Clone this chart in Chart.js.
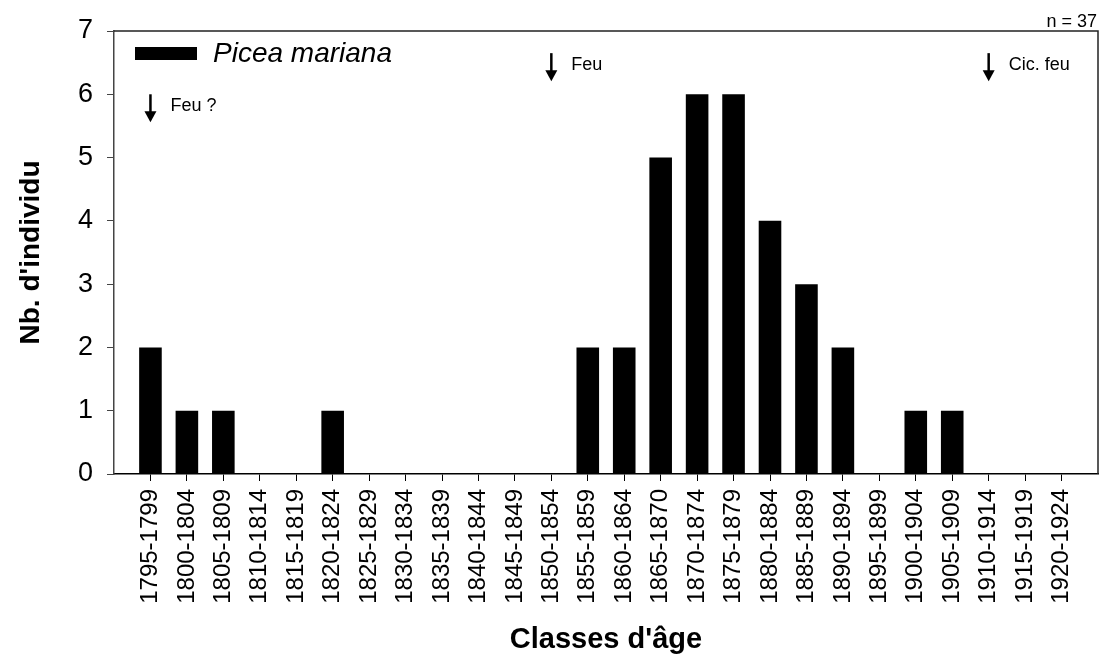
<!DOCTYPE html>
<html>
<head>
<meta charset="utf-8">
<script src="https://cdn.jsdelivr.net/npm/chart.js@4.4.1/dist/chart.umd.min.js"></script>
<style>
  html, body { margin: 0; padding: 0; background: #fff; }
  #wrap { width: 1099px; height: 657px; }
</style>
</head>
<body>
<div id="wrap"><canvas id="chart"></canvas></div>
<script>
// age classes and counts (Picea mariana, n = 37)
var categories = ['1795-1799', '1800-1804', '1805-1809', '1810-1814', '1815-1819', '1820-1824',
    '1825-1829', '1830-1834', '1835-1839', '1840-1844', '1845-1849', '1850-1854',
    '1855-1859', '1860-1864', '1865-1870', '1870-1874', '1875-1879', '1880-1884',
    '1885-1889', '1890-1894', '1895-1899', '1900-1904', '1905-1909', '1910-1914',
    '1915-1919', '1920-1924'];
var counts = [2, 1, 1, 0, 0, 1, 0, 0, 0, 0, 0, 0, 2, 2, 5, 6, 6, 4, 3, 2, 0, 1, 1, 0, 0, 0];
var yTicks = [0, 1, 2, 3, 4, 5, 6, 7];

// fire markers: text, age class, level on the y scale
var fireLabels = ['Feu ?', 'Feu', 'Cic. feu'];
var fireClasses = ['1795-1799', '1850-1854', '1910-1914'];
var fireLevels = [6.0, 6.65, 6.65];

var FONT = '"Liberation Sans", Arial, sans-serif';

/********************************** Frame, legend, notes *****************************************/
var extras = {
    id: 'extras',
    afterDraw: function (chart) {
        var ctx = chart.ctx, a = chart.chartArea;
        var xs = chart.scales.x, ys = chart.scales.y;
        ctx.save();

        // top and right border of the plot
        ctx.strokeStyle = '#222';
        ctx.lineWidth = 1.5;
        ctx.beginPath();
        ctx.moveTo(a.left, a.top);
        ctx.lineTo(a.right, a.top);
        ctx.lineTo(a.right, a.bottom);
        ctx.stroke();

        // legend
        var ds = chart.data.datasets[0];
        ctx.fillStyle = ds.backgroundColor;
        ctx.fillRect(a.left + 21, a.top + 16, 62, 13);
        ctx.font = 'italic 28px ' + FONT;
        ctx.textBaseline = 'middle';
        ctx.textAlign = 'left';
        ctx.fillStyle = '#000';
        ctx.fillText(ds.label, a.left + 99, a.top + 23);

        // fire arrows
        for (var i = 0; i < fireLabels.length; i++) {
            var x = xs.getPixelForValue(categories.indexOf(fireClasses[i]));
            var y = ys.getPixelForValue(fireLevels[i]);
            ctx.strokeStyle = '#000';
            ctx.lineWidth = 2.5;
            ctx.beginPath();
            ctx.moveTo(x, y);
            ctx.lineTo(x, y + 19);
            ctx.stroke();
            ctx.beginPath();
            ctx.moveTo(x - 6, y + 17);
            ctx.lineTo(x + 6, y + 17);
            ctx.lineTo(x, y + 28);
            ctx.closePath();
            ctx.fill();
            ctx.font = '18px ' + FONT;
            ctx.fillText(fireLabels[i], x + 20, y + 12);
        }

        // sample size
        ctx.font = '18px ' + FONT;
        ctx.textAlign = 'right';
        ctx.textBaseline = 'alphabetic';
        ctx.fillText('n = 37', 1097, 27);
        ctx.restore();
    }
};

new Chart(document.getElementById('chart'), {
    type: 'bar',
    data: {
        datasets: [{
            label: 'Picea mariana',
            data: counts.map(function (v, i) { return { x: i, y: v }; }),
            backgroundColor: '#000',
            borderWidth: 0,
            barPercentage: 0.62,
            categoryPercentage: 1
        }]
    },
    options: {
        responsive: true,
        maintainAspectRatio: false,
        animation: false,
        layout: { padding: { top: 31, right: 1, bottom: 0, left: 0 } },
        plugins: {
            legend: { display: false },
            tooltip: { enabled: false }
        },
        scales: {
            x: {
                type: 'linear',
                offset: false,
                min: -1,
                max: categories.length,
                afterBuildTicks: function (scale) {
                    scale.ticks = categories.map(function (c, i) { return { value: i }; });
                },
                afterFit: function (scale) { scale.height = 183; },
                grid: { offset: false, drawOnChartArea: false, drawTicks: true, tickLength: 7, color: '#000' },
                border: { display: true, color: '#000', width: 1.5 },
                ticks: {
                    autoSkip: false,
                    maxRotation: 90,
                    minRotation: 90,
                    padding: 8,
                    color: '#000',
                    font: { family: FONT, size: 24 },
                    callback: function (v) { return categories[v]; }
                },
                title: {
                    display: true,
                    text: "Classes d'âge",
                    color: '#000',
                    font: { family: FONT, size: 29, weight: 'bold' },
                    padding: { top: 0, bottom: 0 }
                }
            },
            y: {
                min: yTicks[0],
                max: yTicks[yTicks.length - 1],
                afterBuildTicks: function (scale) {
                    scale.ticks = yTicks.map(function (v) { return { value: v }; });
                },
                afterFit: function (scale) { scale.width = 114; },
                grid: { drawOnChartArea: false, drawTicks: true, tickLength: 7, color: '#444' },
                border: { display: true, color: '#444', width: 1.5 },
                ticks: {
                    padding: 14,
                    color: '#000',
                    font: { family: FONT, size: 27 }
                },
                title: {
                    display: true,
                    text: "Nb. d'individu",
                    color: '#000',
                    font: { family: FONT, size: 28, weight: 'bold' },
                    padding: { top: 14, bottom: 0 }
                }
            }
        }
    },
    plugins: [extras]
});
</script>
</body>
</html>
